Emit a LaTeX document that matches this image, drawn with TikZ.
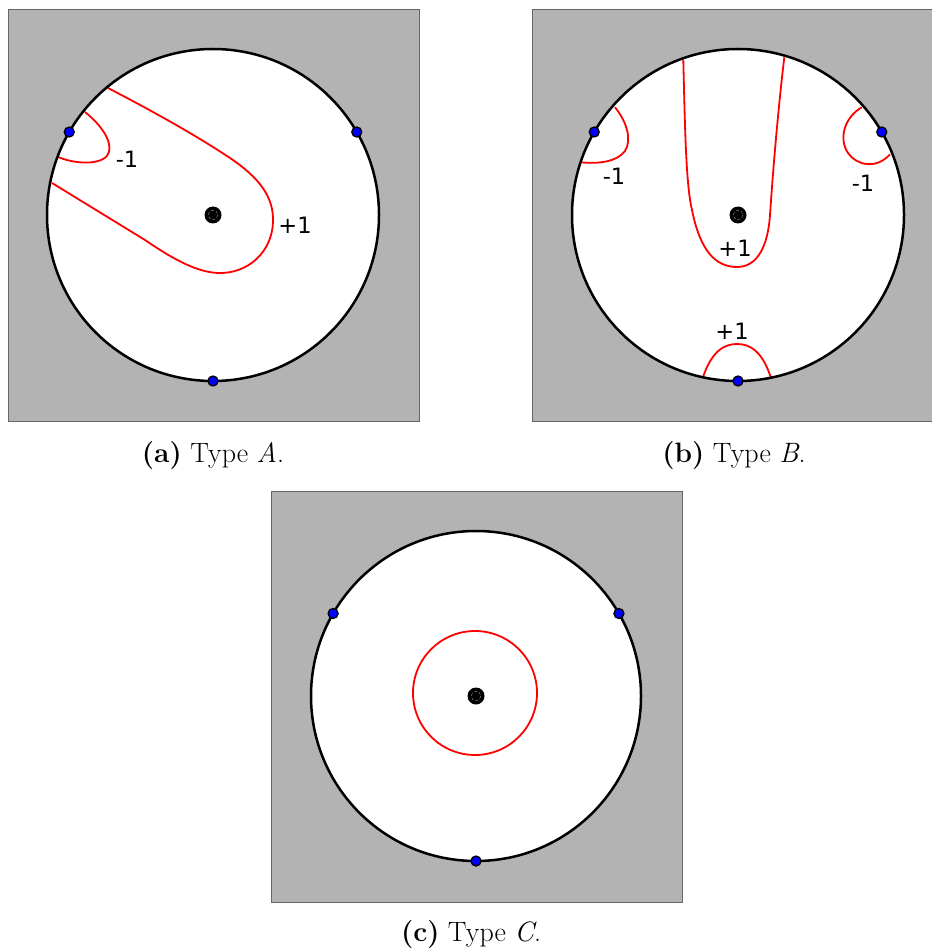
\documentclass[tikz,border=0pt]{standalone}
\usepackage{fontspec}
\usetikzlibrary{calc}
\newfontfamily\labfont{DejaVu Sans}
\definecolor{panelgray}{HTML}{B3B3B3}
\definecolor{edgegray}{HTML}{666666}
\definecolor{curvered}{HTML}{FF0000}
\tikzset{
  panel/.style={fill=panelgray, draw=edgegray, line width=1pt},
  disk/.style={fill=white},
  rim/.style={draw=black, line width=2.5pt},
  level/.style={draw=curvered, line width=1.8pt},
  marker/.style={fill=blue, draw=black, line width=1.3pt},
  lab/.style={font=\labfont\fontsize{22.5}{24}\selectfont, inner sep=0pt},
  captext/.style={font=\fontsize{28}{31}\selectfont, inner sep=0pt}
}
\newcommand{\hub}[1]{%
  \fill[black] (#1) circle (8.5);
  \draw[gray, line width=0.5pt, densely dashed] (#1) circle (4.8);
}
\begin{document}
\begin{tikzpicture}[x=1pt,y=-1pt]
\useasboundingbox (0,0) rectangle (931,949);

% ---------- panel (a)
\coordinate (ca) at (213,215);
\draw[panel] (8,10) rectangle (419,421);
\fill[disk] (ca) circle (166);
\draw[level] (108,88) .. controls (160,115) and (200,138) .. (230,158)
  .. controls (258,177) and (274,196) .. (273,222)
  .. controls (272,252) and (248,274) .. (218,273)
  .. controls (195,272) and (170,257) .. (145,240) -- (52,183);
\draw[level] (85,112) .. controls (100,124) and (112,140) .. (109,152)
  .. controls (106,164) and (80,166) .. (58,157);
\draw[rim] (ca) circle (166);
\hub{ca}
\foreach \a in {-30,-150,90} \draw[marker] ($(ca)+(\a:166)$) circle (5);
\node[lab] (am) at (127,159) {-1};
\node[lab] (ap) at (295,225) {+1};
\node[captext] (capa) at (213,456) {\textbf{(a)} Type \textit{A}.};

% ---------- panel (b)
\coordinate (cb) at (738,215);
\draw[panel] (532,10) rectangle (940,421);
\fill[disk] (cb) circle (166);
\draw[level] (683.3,60) .. controls (685,130) and (686,185) .. (692,210)
  .. controls (700,250) and (715,267) .. (737,267)
  .. controls (758,267) and (768,245) .. (770,215)
  .. controls (773,170) and (778,110) .. (784.3,57.3);
\draw[level] (615,107.3) .. controls (627,122) and (632,140) .. (625,151)
  .. controls (617,162) and (598,164) .. (581,162.3);
\draw[level] (861.7,107.3) .. controls (845,117) and (838,138) .. (848,153)
  .. controls (856,165) and (876,170) .. (890,154.3);
\draw[level] (702.7,378) .. controls (712,350) and (725,344) .. (737,344)
  .. controls (749,344) and (762,350) .. (771,378);
\draw[rim] (cb) circle (166);
\hub{cb}
\foreach \a in {-30,-150,90} \draw[marker] ($(cb)+(\a:166)$) circle (5);
\node[lab] (bm1) at (614,176) {-1};
\node[lab] (bm2) at (863,183) {-1};
\node[lab] (bp1) at (735,248) {+1};
\node[lab] (bp2) at (732,331) {+1};
\node[captext] (capb) at (734,456) {\textbf{(b)} Type \textit{B}.};

% ---------- panel (c)
\coordinate (cc) at (476,696);
\draw[panel] (271,491) rectangle (682,902);
\fill[disk] (cc) circle (165);
\draw[level] (475,693) circle (62);
\draw[rim] (cc) circle (165);
\hub{cc}
\foreach \a in {-30,-150,90} \draw[marker] ($(cc)+(\a:165)$) circle (5);
\node[captext] (capc) at (471,935) {\textbf{(c)} Type \textit{C}.};
\end{tikzpicture}
\end{document}
